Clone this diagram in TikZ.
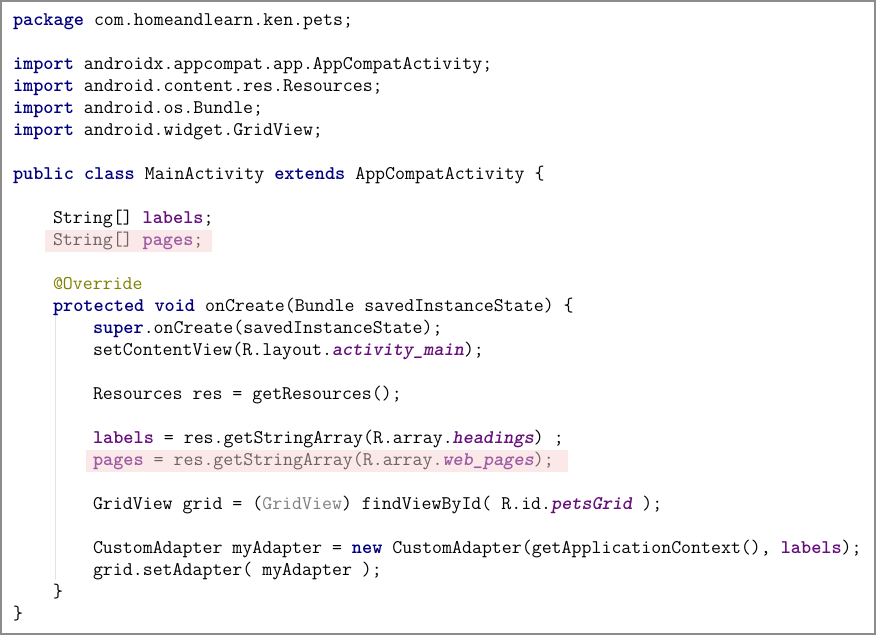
\documentclass[tikz,border=0pt]{standalone}
\definecolor{kwblue}{HTML}{000080}
\definecolor{fldpurple}{HTML}{660E7A}
\definecolor{annolive}{HTML}{808000}
\definecolor{castgray}{HTML}{808080}
\definecolor{hlbg}{HTML}{FBE9E9}
\definecolor{hltext}{HTML}{6E6262}
\definecolor{hlfld}{HTML}{9C5BA3}
\definecolor{framegray}{HTML}{8C8C8C}
\definecolor{guidegray}{HTML}{E4E4E4}
\newcommand\kw[1]{\textcolor{kwblue}{\bfseries #1}}
\newcommand\fld[1]{\textcolor{fldpurple}{\bfseries #1}}
\newcommand\sfld[1]{\textcolor{fldpurple}{\bfseries\itshape #1}}
\newcommand\hfld[1]{\textcolor{hlfld}{\bfseries #1}}
\newcommand\hsfld[1]{\textcolor{hlfld}{\bfseries\itshape #1}}
\newcommand\ann[1]{\textcolor{annolive}{#1}}
\newcommand\cast[1]{\textcolor{castgray}{#1}}
\tikzset{
  code/.style={anchor=base west, inner sep=0pt, outer sep=0pt,
    font=\ttfamily\fontsize{19.34}{22}\selectfont\frenchspacing, text=black},
  hlcode/.style={code, text=hltext},
  hlbox/.style={fill=hlbg, draw=none},
  guide/.style={draw=guidegray, line width=1pt},
  frame/.style={draw=framegray, line width=2pt}
}
\begin{document}
\begin{tikzpicture}[x=1pt,y=-1pt]
\useasboundingbox (0,0) rectangle (876,635);
\fill[white] (0,0) rectangle (876,635);
% highlights
\path[hlbox] (45,230) rectangle (212,252);
\path[hlbox] (86,450) rectangle (568,472);
% indent guide
\draw[guide] (55,315) -- (55,580);
% code lines
\node[code] (l1) at (13,25) {\kw{package} com.homeandlearn.ken.pets;};
\node[code] (l3) at (13,69) {\kw{import} androidx.appcompat.app.AppCompatActivity;};
\node[code] (l4) at (13,91) {\kw{import} android.content.res.Resources;};
\node[code] (l5) at (13,113) {\kw{import} android.os.Bundle;};
\node[code] (l6) at (13,135) {\kw{import} android.widget.GridView;};
\node[code] (l8) at (13,179) {\kw{public class} MainActivity \kw{extends} AppCompatActivity \{};
\node[code] (l10) at (53,223) {String[] \fld{labels};};
\node[hlcode] (l11) at (53,245) {String[] \hfld{pages};};
\node[code] (l13) at (53,289) {\ann{@Override}};
\node[code] (l14) at (53,311) {\kw{protected void} onCreate(Bundle savedInstanceState) \{};
\node[code] (l15) at (93,333) {\kw{super}.onCreate(savedInstanceState);};
\node[code] (l16) at (93,355) {setContentView(R.layout.\sfld{activity\_main});};
\node[code] (l18) at (93,399) {Resources res = getResources();};
\node[code] (l20) at (93,443) {\fld{labels} = res.getStringArray(R.array.\sfld{headings}) ;};
\node[hlcode] (l21) at (93,465) {\hfld{pages} = res.getStringArray(R.array.\hsfld{web\_pages});};
\node[code] (l23) at (93,509) {GridView grid = (\cast{GridView}) findViewById( R.id.\sfld{petsGrid} );};
\node[code] (l25) at (93,553) {CustomAdapter myAdapter = \kw{new} CustomAdapter(getApplicationContext(), \fld{labels});};
\node[code] (l26) at (93,575) {grid.setAdapter( myAdapter );};
\node[code] (l27) at (53,597) {\}};
\node[code] (l28) at (13,619) {\}};
% frame
\draw[frame] (1,1) rectangle (875,634);
\end{tikzpicture}
\end{document}
